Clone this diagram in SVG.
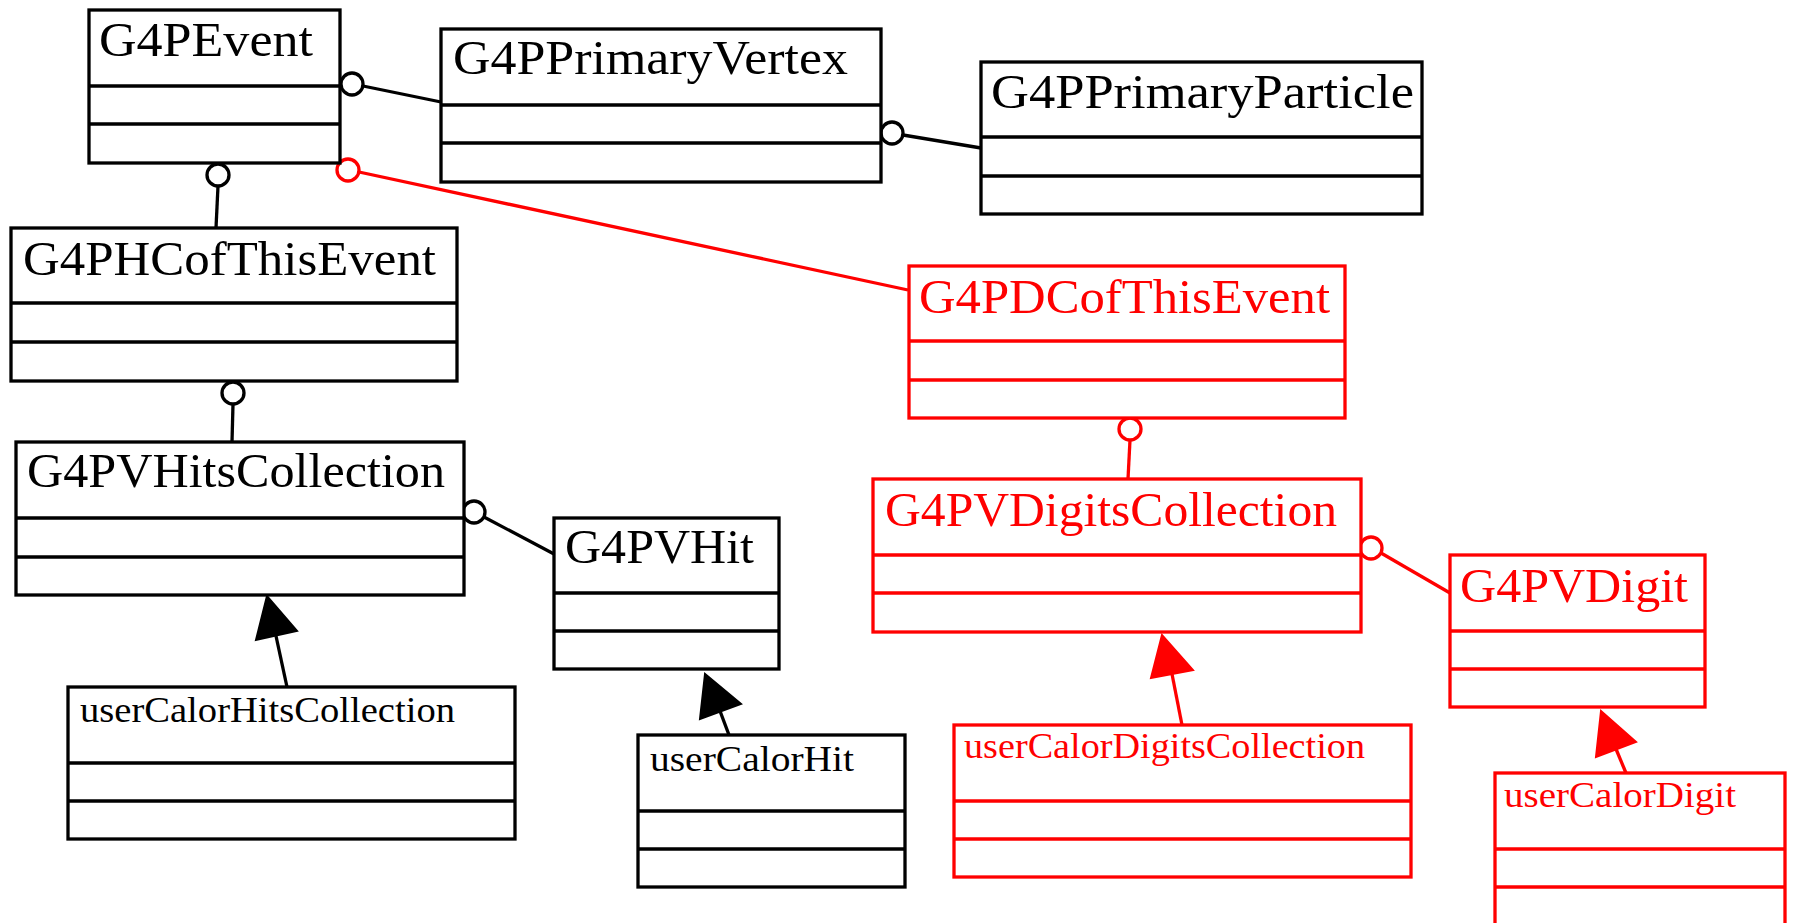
<svg xmlns="http://www.w3.org/2000/svg" width="1795" height="923" viewBox="0 0 1795 923">
<style>
.box{fill:#fff;stroke:#000;stroke-width:3.3}
.red .box{stroke:#f00}
.div{stroke:#000;stroke-width:3.3}
.red .div{stroke:#f00}
.lbl{font-family:"Liberation Serif","Times New Roman",serif;font-size:49px;fill:#000}
.sm{font-size:36px}
.red .lbl{fill:#f00}
.ln{stroke:#000;stroke-width:3.3;fill:none}
.ln.r{stroke:#f00}
.dot{fill:#fff;stroke:#000;stroke-width:3.3}
.dot.r{stroke:#f00}
.tri{fill:#000;stroke:#000;stroke-width:2}
.tri.r{fill:#f00;stroke:#f00}
</style>
<rect width="1795" height="923" fill="#fff"/>
<g id="connectors">
<line class="ln" x1="363" y1="86" x2="441" y2="102"/>
<circle class="dot" cx="352" cy="84" r="11"/>
<line class="ln" x1="903" y1="135" x2="981" y2="148"/>
<circle class="dot" cx="892" cy="133" r="11"/>
<line class="ln" x1="218" y1="186" x2="216" y2="228"/>
<circle class="dot" cx="218" cy="175" r="11"/>
<line class="ln r" x1="359" y1="172" x2="908" y2="290"/>
<circle class="dot r" cx="348" cy="170" r="11"/>
<line class="ln" x1="233" y1="404" x2="232" y2="442"/>
<circle class="dot" cx="233" cy="393" r="11"/>
<line class="ln" x1="484" y1="517" x2="554" y2="554"/>
<circle class="dot" cx="474" cy="512" r="11"/>
<line class="ln r" x1="1130" y1="440" x2="1128" y2="479"/>
<circle class="dot r" cx="1130" cy="429" r="11"/>
<line class="ln r" x1="1381" y1="553" x2="1450" y2="593"/>
<circle class="dot r" cx="1371" cy="548" r="11"/>
<line class="ln" x1="276" y1="636" x2="287" y2="687"/>
<polygon class="tri" points="267,596 256,640 297,631"/>
<line class="ln" x1="720" y1="711" x2="729" y2="735"/>
<polygon class="tri" points="705,674 700,719 741,704"/>
<line class="ln r" x1="1172" y1="674" x2="1182" y2="725"/>
<polygon class="tri r" points="1162,635 1151,678 1193,670"/>
<line class="ln r" x1="1616" y1="749" x2="1626" y2="773"/>
<polygon class="tri r" points="1601,711 1596,757 1636,742"/>
</g>
<g id="G4PEvent">
<rect class="box" x="89" y="10" width="251" height="153"/>
<line class="div" x1="89" y1="86" x2="340" y2="86"/>
<line class="div" x1="89" y1="124" x2="340" y2="124"/>
<text class="lbl" x="99" y="56" textLength="214" lengthAdjust="spacingAndGlyphs">G4PEvent</text>
</g>
<g id="G4PPrimaryVertex">
<rect class="box" x="441" y="29" width="440" height="153"/>
<line class="div" x1="441" y1="105" x2="881" y2="105"/>
<line class="div" x1="441" y1="143" x2="881" y2="143"/>
<text class="lbl" x="453" y="74" textLength="395" lengthAdjust="spacingAndGlyphs">G4PPrimaryVertex</text>
</g>
<g id="G4PPrimaryParticle">
<rect class="box" x="981" y="62" width="441" height="152"/>
<line class="div" x1="981" y1="137" x2="1422" y2="137"/>
<line class="div" x1="981" y1="176" x2="1422" y2="176"/>
<text class="lbl" x="991" y="108" textLength="423" lengthAdjust="spacingAndGlyphs">G4PPrimaryParticle</text>
</g>
<g id="G4PHCofThisEvent">
<rect class="box" x="11" y="228" width="446" height="153"/>
<line class="div" x1="11" y1="303" x2="457" y2="303"/>
<line class="div" x1="11" y1="342" x2="457" y2="342"/>
<text class="lbl" x="23" y="275" textLength="413" lengthAdjust="spacingAndGlyphs">G4PHCofThisEvent</text>
</g>
<g id="G4PVHitsCollection">
<rect class="box" x="16" y="442" width="448" height="153"/>
<line class="div" x1="16" y1="518" x2="464" y2="518"/>
<line class="div" x1="16" y1="557" x2="464" y2="557"/>
<text class="lbl" x="27" y="487" textLength="418" lengthAdjust="spacingAndGlyphs">G4PVHitsCollection</text>
</g>
<g id="G4PVHit">
<rect class="box" x="554" y="518" width="225" height="151"/>
<line class="div" x1="554" y1="593" x2="779" y2="593"/>
<line class="div" x1="554" y1="631" x2="779" y2="631"/>
<text class="lbl" x="565" y="563" textLength="189" lengthAdjust="spacingAndGlyphs">G4PVHit</text>
</g>
<g id="userCalorHitsCollection">
<rect class="box" x="68" y="687" width="447" height="152"/>
<line class="div" x1="68" y1="763" x2="515" y2="763"/>
<line class="div" x1="68" y1="801" x2="515" y2="801"/>
<text class="lbl sm" x="80" y="722" textLength="375" lengthAdjust="spacingAndGlyphs">userCalorHitsCollection</text>
</g>
<g id="userCalorHit">
<rect class="box" x="638" y="735" width="267" height="152"/>
<line class="div" x1="638" y1="811" x2="905" y2="811"/>
<line class="div" x1="638" y1="849" x2="905" y2="849"/>
<text class="lbl sm" x="650" y="771" textLength="204" lengthAdjust="spacingAndGlyphs">userCalorHit</text>
</g>
<g id="G4PDCofThisEvent" class="red">
<rect class="box" x="909" y="266" width="436" height="152"/>
<line class="div" x1="909" y1="341" x2="1345" y2="341"/>
<line class="div" x1="909" y1="380" x2="1345" y2="380"/>
<text class="lbl" x="919" y="313" textLength="411" lengthAdjust="spacingAndGlyphs">G4PDCofThisEvent</text>
</g>
<g id="G4PVDigitsCollection" class="red">
<rect class="box" x="873" y="479" width="488" height="153"/>
<line class="div" x1="873" y1="555" x2="1361" y2="555"/>
<line class="div" x1="873" y1="593" x2="1361" y2="593"/>
<text class="lbl" x="885" y="526" textLength="452" lengthAdjust="spacingAndGlyphs">G4PVDigitsCollection</text>
</g>
<g id="G4PVDigit" class="red">
<rect class="box" x="1450" y="555" width="255" height="152"/>
<line class="div" x1="1450" y1="631" x2="1705" y2="631"/>
<line class="div" x1="1450" y1="669" x2="1705" y2="669"/>
<text class="lbl" x="1460" y="602" textLength="228" lengthAdjust="spacingAndGlyphs">G4PVDigit</text>
</g>
<g id="userCalorDigitsCollection" class="red">
<rect class="box" x="954" y="725" width="457" height="152"/>
<line class="div" x1="954" y1="801" x2="1411" y2="801"/>
<line class="div" x1="954" y1="839" x2="1411" y2="839"/>
<text class="lbl sm" x="964" y="758" textLength="401" lengthAdjust="spacingAndGlyphs">userCalorDigitsCollection</text>
</g>
<g id="userCalorDigit" class="red">
<rect class="box" x="1495" y="773" width="290" height="152"/>
<line class="div" x1="1495" y1="849" x2="1785" y2="849"/>
<line class="div" x1="1495" y1="887" x2="1785" y2="887"/>
<text class="lbl sm" x="1504" y="807" textLength="232" lengthAdjust="spacingAndGlyphs">userCalorDigit</text>
</g>
</svg>
